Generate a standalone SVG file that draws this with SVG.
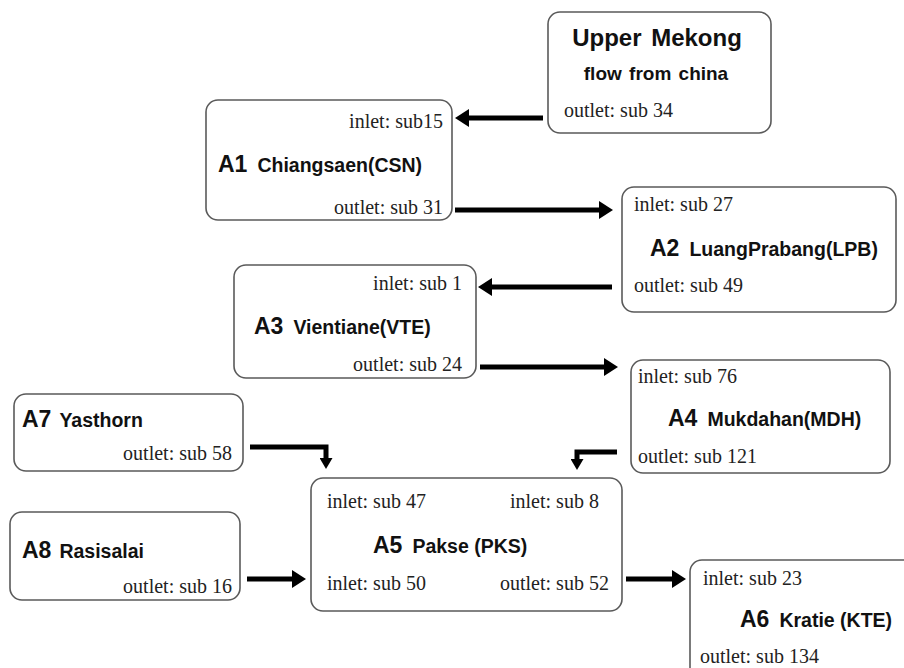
<svg xmlns="http://www.w3.org/2000/svg" width="904" height="668" viewBox="0 0 904 668">
  <style>
    .box { fill: #ffffff; stroke: #5a5a5a; stroke-width: 1.6; }
    .sub { font-family: "Liberation Serif", "Times New Roman", serif; font-size: 20px; fill: #222; }
    .end { text-anchor: end; }
    .code { font-family: "Liberation Sans", Arial, sans-serif; font-weight: bold; font-size: 23px; fill: #111; }
    .name { font-family: "Liberation Sans", Arial, sans-serif; font-weight: bold; font-size: 19.5px; fill: #111; }
    .title { font-family: "Liberation Sans", Arial, sans-serif; font-weight: bold; fill: #111; text-anchor: middle; }
    .flow { fill: none; stroke: #000; stroke-width: 5; }
  </style>
  <defs>
    <marker id="head" markerUnits="userSpaceOnUse" markerWidth="14" markerHeight="18" refX="6" refY="9" orient="auto">
      <path d="M0,0 L14,9 L0,18 z" fill="#000"/>
    </marker>
    <marker id="headSmall" markerUnits="userSpaceOnUse" markerWidth="11" markerHeight="13" refX="4" refY="6.5" orient="auto">
      <path d="M0,0 L11,6.5 L0,13 z" fill="#000"/>
    </marker>
  </defs>

  <rect width="904" height="668" fill="#ffffff"/>

  <!-- river flow connectors -->
  <g id="connectors">
    <line class="flow" x1="543" y1="118" x2="463" y2="118" marker-end="url(#head)"/>
    <line class="flow" x1="455" y1="210" x2="605" y2="210" marker-end="url(#head)"/>
    <line class="flow" x1="612" y1="287" x2="486" y2="287" marker-end="url(#head)"/>
    <line class="flow" x1="480" y1="367" x2="610" y2="367" marker-end="url(#head)"/>
    <polyline class="flow" points="617,452 577,452 577,463" marker-end="url(#headSmall)"/>
    <polyline class="flow" points="250,447 326,447 326,462" marker-end="url(#headSmall)"/>
    <line class="flow" x1="247" y1="579" x2="298" y2="579" marker-end="url(#head)"/>
    <line class="flow" x1="626" y1="579" x2="678" y2="579" marker-end="url(#head)"/>
  </g>

  <g id="upper-mekong">
    <rect class="box" x="548" y="12" width="223" height="121" rx="12"/>
    <text class="title" x="657" y="46" font-size="24" word-spacing="3">Upper Mekong</text>
    <text class="title" x="656" y="80" font-size="19" word-spacing="2">flow from china</text>
    <text class="sub" x="564" y="117">outlet: sub 34</text>
  </g>

  <g id="a1">
    <rect class="box" x="206" y="100" width="246" height="120" rx="12"/>
    <text class="sub end" x="443" y="128">inlet: sub15</text>
    <text x="218" y="172"><tspan class="code">A1</tspan><tspan class="name" dx="10">Chiangsaen(CSN)</tspan></text>
    <text class="sub end" x="443" y="214">outlet: sub 31</text>
  </g>

  <g id="a2">
    <rect class="box" x="622" y="187" width="274" height="125" rx="12"/>
    <text class="sub" x="634" y="211">inlet: sub 27</text>
    <text x="650" y="256"><tspan class="code">A2</tspan><tspan class="name" dx="10">LuangPrabang(LPB)</tspan></text>
    <text class="sub" x="634" y="292">outlet: sub 49</text>
  </g>

  <g id="a3">
    <rect class="box" x="234" y="265" width="242" height="113" rx="12"/>
    <text class="sub end" x="462" y="290">inlet: sub 1</text>
    <text x="254" y="334"><tspan class="code">A3</tspan><tspan class="name" dx="10">Vientiane(VTE)</tspan></text>
    <text class="sub end" x="462" y="371">outlet: sub 24</text>
  </g>

  <g id="a4">
    <rect class="box" x="631" y="360" width="259" height="113" rx="12"/>
    <text class="sub" x="638" y="383">inlet: sub 76</text>
    <text x="668" y="426"><tspan class="code">A4</tspan><tspan class="name" dx="10">Mukdahan(MDH)</tspan></text>
    <text class="sub" x="638" y="463">outlet: sub 121</text>
  </g>

  <g id="a7">
    <rect class="box" x="14" y="394" width="229" height="77" rx="12"/>
    <text x="22" y="427"><tspan class="code">A7</tspan><tspan class="name" dx="8">Yasthorn</tspan></text>
    <text class="sub end" x="232" y="460">outlet: sub 58</text>
  </g>

  <g id="a5">
    <rect class="box" x="311" y="478" width="311" height="133" rx="12"/>
    <text class="sub" x="327" y="508">inlet: sub 47</text>
    <text class="sub" x="510" y="508">inlet: sub 8</text>
    <text x="373" y="553"><tspan class="code">A5</tspan><tspan class="name" dx="10">Pakse (PKS)</tspan></text>
    <text class="sub" x="327" y="590">inlet: sub 50</text>
    <text class="sub" x="500" y="590">outlet: sub 52</text>
  </g>

  <g id="a8">
    <rect class="box" x="10" y="512" width="230" height="88" rx="12"/>
    <text x="22" y="558"><tspan class="code">A8</tspan><tspan class="name" dx="8">Rasisalai</tspan></text>
    <text class="sub end" x="232" y="593">outlet: sub 16</text>
  </g>

  <g id="a6">
    <rect class="box" x="690" y="560" width="230" height="120" rx="12"/>
    <text class="sub" x="703" y="585">inlet: sub 23</text>
    <text x="740" y="627"><tspan class="code">A6</tspan><tspan class="name" dx="10">Kratie (KTE)</tspan></text>
    <text class="sub" x="700" y="663">outlet: sub 134</text>
  </g>
</svg>
